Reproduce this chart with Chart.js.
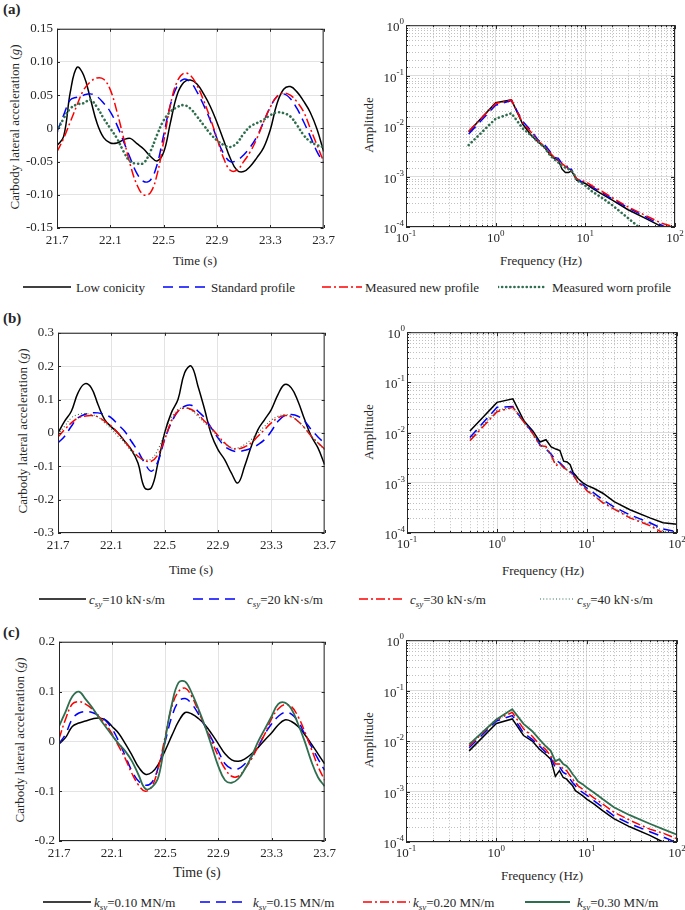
<!DOCTYPE html>
<html>
<head>
<meta charset="utf-8">
<script src="https://cdn.jsdelivr.net/npm/chart.js@4.4.1/dist/chart.umd.min.js"></script>
<style>
  body { margin: 0; background: #fff; }
  #page { position: relative; width: 685px; height: 910px; overflow: hidden;
          font-family: 'Liberation Serif', 'Times New Roman', serif; color: #262626; }
  .box { position: absolute; }
  .t { position: absolute; font-size: 13px; white-space: nowrap; line-height: 1; }
  .vt { transform: translate(-50%, -50%) rotate(-90deg); }
  .ct { transform: translate(-50%, -50%); }
  .lab { position: absolute; font-weight: bold; font-size: 15px; line-height: 1; }
  .leg { position: absolute; font-size: 13px; white-space: nowrap; line-height: 1; transform: translateY(-50%); }
  .leg sub { font-size: 9px; line-height: 0; vertical-align: -3px; font-style: italic; }
</style>
</head>
<body>
<div id="page">
  <div class="lab" style="left:3px;top:2px">(a)</div>
  <div class="lab" style="left:3px;top:311px">(b)</div>
  <div class="lab" style="left:3px;top:625px">(c)</div>

  <div class="t vt" style="left:14px;top:127px">Carbody lateral acceleration (<i>g</i>)</div>
  <div class="t vt" style="left:22px;top:431px">Carbody lateral acceleration (<i>g</i>)</div>
  <div class="t vt" style="left:19px;top:740px">Carbody lateral acceleration (<i>g</i>)</div>
  <div class="t vt" style="left:368px;top:125px">Amplitude</div>
  <div class="t vt" style="left:368px;top:432px">Amplitude</div>
  <div class="t vt" style="left:368px;top:740px">Amplitude</div>

  <div class="t ct" style="left:195px;top:260px">Time (s)</div>
  <div class="t ct" style="left:191px;top:569px">Time (s)</div>
  <div class="t ct" style="left:197px;top:873px;font-size:14px">Time (s)</div>
  <div class="t ct" style="left:541px;top:260px">Frequency (Hz)</div>
  <div class="t ct" style="left:543px;top:570px">Frequency (Hz)</div>
  <div class="t ct" style="left:542px;top:875px">Frequency (Hz)</div>
</div>

<script>
// time axis (s)
const time = [21.70, 21.75, 21.80, 21.85, 21.90, 21.95, 22.00, 22.05, 22.10, 22.15,
              22.20, 22.25, 22.30, 22.35, 22.40, 22.45, 22.50, 22.55, 22.60, 22.65,
              22.70, 22.75, 22.80, 22.85, 22.90, 22.95, 23.00, 23.05, 23.10, 23.15,
              23.20, 23.25, 23.30, 23.35, 23.40, 23.45, 23.50, 23.55, 23.60, 23.65, 23.70];

// (a) wheel profiles, carbody lateral acceleration (g)
const aLow  = [-0.026, -0.012, 0.055, 0.092, 0.080, 0.045, 0.008, -0.014, -0.022, -0.022,
               -0.017, -0.015, -0.023, -0.031, -0.042, -0.049, -0.036, 0.008, 0.050, 0.069,
               0.073, 0.067, 0.052, 0.033, 0.009, -0.018, -0.045, -0.063, -0.065, -0.057,
               -0.044, -0.029, -0.002, 0.037, 0.059, 0.063, 0.055, 0.041, 0.024, -0.001, -0.035];
const aStd  = [-0.005, 0.020, 0.043, 0.047, 0.050, 0.052, 0.048, 0.038, 0.025, 0.005,
               -0.020, -0.045, -0.068, -0.080, -0.078, -0.055, -0.010, 0.035, 0.063, 0.074,
               0.070, 0.055, 0.035, 0.012, -0.015, -0.038, -0.050, -0.048, -0.040, -0.028,
               -0.012, 0.010, 0.032, 0.048, 0.052, 0.045, 0.030, 0.010, -0.012, -0.035, -0.052];
const aNew  = [-0.035, -0.015, 0.010, 0.035, 0.058, 0.070, 0.076, 0.074, 0.058, 0.025,
               -0.015, -0.055, -0.085, -0.100, -0.097, -0.070, -0.020, 0.035, 0.070, 0.083,
               0.080, 0.065, 0.042, 0.015, -0.015, -0.045, -0.063, -0.063, -0.050, -0.035,
               -0.015, 0.010, 0.032, 0.048, 0.053, 0.050, 0.040, 0.025, 0.000, -0.025, -0.050];
const aWorn = [-0.005, 0.015, 0.030, 0.036, 0.038, 0.043, 0.032, 0.015, 0.000, -0.015,
               -0.035, -0.050, -0.053, -0.052, -0.035, -0.010, 0.012, 0.025, 0.032, 0.035,
               0.030, 0.018, 0.005, -0.008, -0.018, -0.025, -0.028, -0.022, -0.008, 0.003,
               0.008, 0.013, 0.020, 0.024, 0.023, 0.018, 0.005, -0.010, -0.020, -0.025, -0.028];

// (b) yaw damper damping
const bC10 = [0.000, 0.035, 0.065, 0.120, 0.147, 0.135, 0.085, 0.040, 0.018, 0.000,
              -0.025, -0.050, -0.090, -0.165, -0.165, -0.090, 0.000, 0.060, 0.100, 0.180,
              0.200, 0.140, 0.070, -0.005, -0.050, -0.080, -0.120, -0.150, -0.100, -0.040,
              0.010, 0.040, 0.070, 0.115, 0.145, 0.135, 0.095, 0.040, -0.010, -0.045, -0.095];
const bC20 = [-0.030, -0.010, 0.020, 0.045, 0.055, 0.060, 0.060, 0.055, 0.045, 0.025,
              0.005, -0.025, -0.055, -0.090, -0.115, -0.085, -0.020, 0.030, 0.065, 0.080,
              0.083, 0.065, 0.045, 0.015, -0.015, -0.040, -0.052, -0.056, -0.052, -0.046,
              -0.035, -0.020, 0.005, 0.035, 0.052, 0.055, 0.050, 0.035, 0.010, -0.012, -0.031];
const bC30 = [-0.012, 0.010, 0.030, 0.045, 0.050, 0.052, 0.048, 0.035, 0.020, 0.000,
              -0.025, -0.050, -0.070, -0.083, -0.085, -0.065, -0.020, 0.035, 0.065, 0.075,
              0.070, 0.055, 0.035, 0.015, -0.008, -0.030, -0.045, -0.048, -0.042, -0.030,
              -0.010, 0.010, 0.030, 0.045, 0.052, 0.048, 0.035, 0.015, -0.010, -0.030, -0.048];
const bC40 = [-0.005, 0.020, 0.045, 0.055, 0.058, 0.055, 0.048, 0.030, 0.012, -0.010,
              -0.030, -0.055, -0.072, -0.080, -0.078, -0.050, 0.000, 0.045, 0.070, 0.075,
              0.068, 0.050, 0.030, 0.010, -0.012, -0.032, -0.045, -0.045, -0.035, -0.020,
              0.000, 0.020, 0.038, 0.050, 0.055, 0.050, 0.035, 0.015, -0.010, -0.030, -0.050];

// (c) secondary lateral stiffness
const cK10 = [-0.005, 0.008, 0.030, 0.037, 0.041, 0.045, 0.047, 0.043, 0.030, 0.016,
              -0.005, -0.028, -0.052, -0.066, -0.062, -0.045, -0.018, 0.012, 0.040, 0.058,
              0.055, 0.046, 0.033, 0.015, -0.005, -0.025, -0.037, -0.040, -0.035, -0.025,
              -0.012, 0.003, 0.017, 0.033, 0.043, 0.040, 0.030, 0.014, -0.005, -0.025, -0.045];
const cK15 = [-0.005, 0.015, 0.045, 0.057, 0.060, 0.058, 0.052, 0.042, 0.025, 0.000,
              -0.030, -0.060, -0.080, -0.088, -0.082, -0.050, 0.000, 0.050, 0.080, 0.086,
              0.075, 0.055, 0.030, 0.005, -0.020, -0.045, -0.055, -0.055, -0.045, -0.030,
              -0.010, 0.015, 0.035, 0.050, 0.058, 0.055, 0.040, 0.015, -0.010, -0.035, -0.058];
const cK20 = [0.005, 0.045, 0.075, 0.080, 0.075, 0.065, 0.050, 0.035, 0.015, -0.010,
              -0.035, -0.065, -0.088, -0.100, -0.090, -0.050, 0.010, 0.070, 0.100, 0.107,
              0.090, 0.060, 0.030, 0.000, -0.030, -0.055, -0.070, -0.070, -0.055, -0.035,
              -0.010, 0.015, 0.045, 0.065, 0.074, 0.070, 0.050, 0.020, -0.015, -0.050, -0.078];
const cK30 = [0.030, 0.060, 0.090, 0.100, 0.085, 0.068, 0.048, 0.030, 0.012, -0.005,
              -0.020, -0.040, -0.068, -0.095, -0.092, -0.070, 0.005, 0.075, 0.118, 0.120,
              0.097, 0.065, 0.030, -0.010, -0.050, -0.078, -0.083, -0.075, -0.055, -0.030,
              0.000, 0.025, 0.050, 0.075, 0.078, 0.065, 0.035, 0.000, -0.040, -0.072, -0.090];

// spectra (Hz, amplitude)
const freq = [0.5, 1, 1.5, 2, 2.5, 3, 3.5, 4, 4.5, 5, 5.5, 6, 6.5, 7, 7.5, 8, 9, 10, 12, 15, 20, 30, 50, 70, 100];
const aLowF  = [0.0077, 0.029, 0.033, 0.011, 0.0065, 0.0048, 0.0038, 0.0028, 0.0023, 0.0021, 0.0014, 0.0012, 0.0012,
                0.0013, 0.00105, 0.00085, 0.00078, 0.00073, 0.00058, 0.00046, 0.00034, 0.00022, 0.00014, 0.000103, 0.00007];
const aStdF  = [0.007, 0.026, 0.032, 0.0125, 0.008, 0.0052, 0.0043, 0.0032, 0.0024, 0.0023, 0.0018, 0.0018, 0.0014,
                0.0014, 0.0011, 0.0009, 0.0008, 0.00077, 0.00062, 0.00049, 0.00036, 0.00024, 0.00015, 0.00011, 0.00008];
const aNewF  = [0.0079, 0.028, 0.033, 0.0116, 0.0075, 0.005, 0.004, 0.003, 0.0024, 0.0021, 0.0018, 0.0016, 0.0014,
                0.0013, 0.0011, 0.0009, 0.00083, 0.0008, 0.00065, 0.00052, 0.00038, 0.00025, 0.00016, 0.00012, 0.0001];
const aWornF = [0.0042, 0.014, 0.018, 0.009, 0.0065, 0.0048, 0.0038, 0.0027, 0.0022, 0.0019, 0.0016, 0.0015, 0.0014,
                0.0013, 0.0011, 0.00085, 0.00075, 0.00066, 0.0005, 0.00039, 0.00027, 0.00015, 0.00007, 0.00004, 0.00002];
const bC10F = [0.0108, 0.040, 0.047, 0.017, 0.0108, 0.0065, 0.0072, 0.0052, 0.0047, 0.0044, 0.0027, 0.0026, 0.0023,
               0.0016, 0.0014, 0.0012, 0.001, 0.00089, 0.00077, 0.00062, 0.00042, 0.00029, 0.0002, 0.00016, 0.00015];
const bC20F = [0.008, 0.032, 0.033, 0.016, 0.010, 0.0057, 0.0047, 0.0037, 0.0028, 0.0025, 0.0021, 0.0018, 0.0017,
               0.0015, 0.0012, 0.00097, 0.00092, 0.00078, 0.00062, 0.00046, 0.00033, 0.00023, 0.00016, 0.00012, 0.000106];
const bC30F = [0.0069, 0.026, 0.032, 0.016, 0.0095, 0.0055, 0.0053, 0.0035, 0.0022, 0.0024, 0.002, 0.0018, 0.0016,
               0.0014, 0.0012, 0.00097, 0.00088, 0.00069, 0.00055, 0.0004, 0.0003, 0.0002, 0.00014, 0.0001, 0.00009];
const bC40F = [0.0074, 0.028, 0.032, 0.016, 0.0098, 0.0056, 0.005, 0.0036, 0.0024, 0.0024, 0.002, 0.0018, 0.0016,
               0.0014, 0.0012, 0.00097, 0.0009, 0.00072, 0.00057, 0.00042, 0.00031, 0.00021, 0.00015, 0.00011, 0.000095];
const cK10F = [0.0064, 0.0223, 0.0275, 0.0129, 0.010, 0.0069, 0.0055, 0.0044, 0.002, 0.0026, 0.0019, 0.00176, 0.0015,
               0.0013, 0.00104, 0.00096, 0.00083, 0.00071, 0.00057, 0.00042, 0.00029, 0.0002, 0.000135, 0.0001, 0.00008];
const cK15F = [0.0074, 0.025, 0.032, 0.0146, 0.0108, 0.008, 0.0061, 0.0047, 0.003, 0.0031, 0.0024, 0.0022, 0.0018,
               0.0015, 0.0013, 0.00112, 0.00096, 0.00085, 0.00066, 0.00049, 0.00033, 0.00023, 0.00016, 0.000126, 0.000097];
const cK20F = [0.008, 0.0267, 0.037, 0.0175, 0.0125, 0.0086, 0.0069, 0.0051, 0.0035, 0.0035, 0.0028, 0.0026, 0.0021,
               0.00176, 0.0015, 0.0013, 0.00112, 0.00096, 0.00075, 0.00057, 0.00039, 0.00027, 0.00018, 0.00015, 0.000116];
const cK30F = [0.0086, 0.0267, 0.043, 0.022, 0.0157, 0.0108, 0.008, 0.0064, 0.004, 0.0044, 0.0035, 0.0032, 0.0027,
               0.0022, 0.0019, 0.0016, 0.0014, 0.0012, 0.00096, 0.00071, 0.00049, 0.00034, 0.00023, 0.00018, 0.00014];

// ticks
const timeTicks = [21.7, 22.1, 22.5, 22.9, 23.3, 23.7];
const timeLabels = ['21.7', '22.1', '22.5', '22.9', '23.3', '23.7'];
const aTicks = [-0.15, -0.10, -0.05, 0, 0.05, 0.10, 0.15];
const aLabels = ['-0.15', '-0.10', '-0.05', '0', '0.05', '0.10', '0.15'];
const bTicks = [-0.3, -0.2, -0.1, 0, 0.1, 0.2, 0.3];
const bLabels = ['-0.3', '-0.2', '-0.1', '0', '0.1', '0.2', '0.3'];
const cTicks = [-0.2, -0.1, 0, 0.1, 0.2];
const cLabels = ['-0.2', '-0.1', '0', '0.1', '0.2'];
const freqTicks = [0.1, 1, 10, 100];
const freqExp = ['-1', '0', '1', '2'];
const ampTicks = [0.0001, 0.001, 0.01, 0.1, 1];
const ampExp = ['-4', '-3', '-2', '-1', '0'];

const BLACK = '#000000', BLUE = '#0000ff', RED = '#ff0000', GREEN = '#2f6f4f';
const SERIF = "'Liberation Serif', 'Times New Roman', serif";
Chart.defaults.font.family = SERIF;
Chart.defaults.color = '#262626';

const solid = {dash: [], width: 1.5};
const dashed = {dash: [10, 6], width: 1.5};
const dashDot = {dash: [9, 3, 2, 3], width: 1.5};
const bigDots = {dash: [0.1, 4], width: 2.6, cap: 'round'};
const thinDots = {dash: [1, 2.2], width: 1.1};

function isMajor(v) {
  const l = Math.log10(v);
  return Math.abs(l - Math.round(l)) < 1e-6;
}

const frame = {
  id: 'frame',
  beforeDatasetsDraw(chart, args, o) {
    if (!o.log) return;
    const {ctx, chartArea: a} = chart;
    const x = chart.scales.x, y = chart.scales.y;
    ctx.save();
    ctx.strokeStyle = '#b0b0b0';
    ctx.lineWidth = 0.8;
    ctx.setLineDash([1, 2]);
    ctx.beginPath();
    x.ticks.forEach(t => {
      if (isMajor(t.value)) return;
      const px = Math.round(x.getPixelForValue(t.value)) + 0.5;
      ctx.moveTo(px, a.top); ctx.lineTo(px, a.bottom);
    });
    y.ticks.forEach(t => {
      if (isMajor(t.value)) return;
      const py = Math.round(y.getPixelForValue(t.value)) + 0.5;
      ctx.moveTo(a.left, py); ctx.lineTo(a.right, py);
    });
    ctx.stroke();
    ctx.restore();
  },
  afterDraw(chart, args, o) {
    const {ctx, chartArea: a} = chart;
    const x = chart.scales.x, y = chart.scales.y;
    ctx.save();
    ctx.strokeStyle = '#262626';
    ctx.lineWidth = 1;
    ctx.strokeRect(a.left + 0.5, a.top + 0.5, a.right - a.left - 1, a.bottom - a.top - 1);
    // inward tick marks, as in the source figure
    ctx.beginPath();
    x.ticks.forEach(t => {
      const len = o.log ? (isMajor(t.value) ? 4 : 2) : 3;
      const px = Math.round(x.getPixelForValue(t.value)) + 0.5;
      ctx.moveTo(px, a.bottom); ctx.lineTo(px, a.bottom - len);
      ctx.moveTo(px, a.top); ctx.lineTo(px, a.top + len);
    });
    y.ticks.forEach(t => {
      const len = o.log ? (isMajor(t.value) ? 4 : 2) : 3;
      const py = Math.round(y.getPixelForValue(t.value)) + 0.5;
      ctx.moveTo(a.left, py); ctx.lineTo(a.left + len, py);
      ctx.moveTo(a.right, py); ctx.lineTo(a.right - len, py);
    });
    ctx.stroke();

    if (o.log) {
      ctx.fillStyle = '#262626';
      ctx.textAlign = 'left';
      ctx.textBaseline = 'alphabetic';
      freqTicks.forEach((v, i) => {
        const px = x.getPixelForValue(v);
        ctx.font = '13px ' + SERIF;
        const w1 = ctx.measureText('10').width;
        ctx.font = '9px ' + SERIF;
        const w2 = ctx.measureText(freqExp[i]).width;
        const x0 = px - (w1 + w2) / 2;
        ctx.font = '13px ' + SERIF;
        ctx.fillText('10', x0, a.bottom + 15);
        ctx.font = '9px ' + SERIF;
        ctx.fillText(freqExp[i], x0 + w1, a.bottom + 9);
      });
      ampTicks.forEach((v, i) => {
        const py = y.getPixelForValue(v);
        ctx.font = '9px ' + SERIF;
        const w2 = ctx.measureText(ampExp[i]).width;
        ctx.font = '13px ' + SERIF;
        const w1 = ctx.measureText('10').width;
        const x0 = a.left - 2 - w1 - w2;
        ctx.fillText('10', x0, py + 6);
        ctx.font = '9px ' + SERIF;
        ctx.fillText(ampExp[i], x0 + w1, py - 1);
      });
    }
    ctx.restore();
  }
};

const PAD_L = 50, PAD_T = 8, PAD_R = 12, PAD_B = 30;

function makeCanvas(area) {
  const div = document.createElement('div');
  div.className = 'box';
  div.style.left = (area.l - PAD_L) + 'px';
  div.style.top = (area.t - PAD_T) + 'px';
  div.style.width = (area.r - area.l + PAD_L + PAD_R) + 'px';
  div.style.height = (area.b - area.t + PAD_T + PAD_B) + 'px';
  const c = document.createElement('canvas');
  div.appendChild(c);
  document.getElementById('page').appendChild(div);
  return c;
}

function toDatasets(series, xs, tension) {
  return series.map((s, i) => ({
    label: s.label,
    data: xs.map((v, k) => ({x: v, y: s.values[k]})),
    borderColor: s.color,
    borderWidth: s.style.width,
    borderDash: s.style.dash,
    borderCapStyle: s.style.cap || 'butt',
    pointRadius: 0,
    fill: false,
    tension: tension,
    order: series.length - i
  }));
}

function timeChart(area, series, yTicks, yLabels) {
  new Chart(makeCanvas(area), {
    type: 'line',
    data: {datasets: toDatasets(series, time, 0.4)},
    options: {
      responsive: true,
      maintainAspectRatio: false,
      animation: false,
      layout: {padding: {left: 0, top: PAD_T, right: PAD_R, bottom: 0}},
      plugins: {legend: {display: false}, tooltip: {enabled: false}, frame: {log: false}},
      scales: {
        x: {
          type: 'linear', min: 21.7, max: 23.7,
          afterBuildTicks: s => { s.ticks = timeTicks.map(v => ({value: v})); },
          afterFit: s => { s.height = PAD_B; },
          ticks: {callback: (v, i) => timeLabels[i], autoSkip: false, maxRotation: 0, padding: 5, font: {size: 13}},
          grid: {color: '#e3e3e3', drawTicks: false},
          border: {display: false}
        },
        y: {
          type: 'linear', min: yTicks[0], max: yTicks[yTicks.length - 1],
          afterBuildTicks: s => { s.ticks = yTicks.map(v => ({value: v})); },
          afterFit: s => { s.width = PAD_L; },
          ticks: {callback: (v, i) => yLabels[i], autoSkip: false, padding: 4, font: {size: 13}},
          grid: {color: '#e3e3e3', drawTicks: false},
          border: {display: false}
        }
      }
    },
    plugins: [frame]
  });
}

function specChart(area, series) {
  const majorGrid = c => (c.tick && isMajor(c.tick.value)) ? '#dcdcdc' : 'rgba(0,0,0,0)';
  new Chart(makeCanvas(area), {
    type: 'line',
    data: {datasets: toDatasets(series, freq, 0)},
    options: {
      responsive: true,
      maintainAspectRatio: false,
      animation: false,
      layout: {padding: {left: 0, top: PAD_T, right: PAD_R, bottom: 0}},
      plugins: {legend: {display: false}, tooltip: {enabled: false}, frame: {log: true}},
      scales: {
        x: {
          type: 'logarithmic', min: 0.1, max: 100,
          afterFit: s => { s.height = PAD_B; },
          ticks: {callback: () => '', autoSkip: false, maxRotation: 0},
          grid: {color: majorGrid, drawTicks: false},
          border: {display: false}
        },
        y: {
          type: 'logarithmic', min: 0.0001, max: 1,
          afterFit: s => { s.width = PAD_L; },
          ticks: {callback: () => '', autoSkip: false},
          grid: {color: majorGrid, drawTicks: false},
          border: {display: false}
        }
      }
    },
    plugins: [frame]
  });
}

// (a)
const aNames = ['Low conicity', 'Standard profile', 'Measured new profile', 'Measured worn profile'];
timeChart({l: 57, t: 25, r: 328, b: 228}, [
  {label: aNames[0], values: aLow, color: BLACK, style: solid},
  {label: aNames[1], values: aStd, color: BLUE, style: dashed},
  {label: aNames[2], values: aNew, color: RED, style: dashDot},
  {label: aNames[3], values: aWorn, color: GREEN, style: bigDots}
], aTicks, aLabels);
specChart({l: 406, t: 23, r: 675, b: 227}, [
  {label: aNames[0], values: aLowF, color: BLACK, style: solid},
  {label: aNames[1], values: aStdF, color: BLUE, style: dashed},
  {label: aNames[2], values: aNewF, color: RED, style: dashDot},
  {label: aNames[3], values: aWornF, color: GREEN, style: bigDots}
]);

// (b)
const bNames = ['c_sy=10 kN·s/m', 'c_sy=20 kN·s/m', 'c_sy=30 kN·s/m', 'c_sy=40 kN·s/m'];
timeChart({l: 58, t: 329, r: 329, b: 533}, [
  {label: bNames[0], values: bC10, color: BLACK, style: solid},
  {label: bNames[1], values: bC20, color: BLUE, style: dashed},
  {label: bNames[2], values: bC30, color: RED, style: dashDot},
  {label: bNames[3], values: bC40, color: GREEN, style: thinDots}
], bTicks, bLabels);
specChart({l: 407, t: 330, r: 677, b: 533}, [
  {label: bNames[0], values: bC10F, color: BLACK, style: solid},
  {label: bNames[1], values: bC20F, color: BLUE, style: dashed},
  {label: bNames[2], values: bC30F, color: RED, style: dashDot},
  {label: bNames[3], values: bC40F, color: GREEN, style: thinDots}
]);

// (c)
const cNames = ['k_sy=0.10 MN/m', 'k_sy=0.15 MN/m', 'k_sy=0.20 MN/m', 'k_sy=0.30 MN/m'];
const greenSolid = {dash: [], width: 1.8};
timeChart({l: 59, t: 638, r: 329, b: 841}, [
  {label: cNames[0], values: cK10, color: BLACK, style: solid},
  {label: cNames[1], values: cK15, color: BLUE, style: dashed},
  {label: cNames[2], values: cK20, color: RED, style: dashDot},
  {label: cNames[3], values: cK30, color: GREEN, style: greenSolid}
], cTicks, cLabels);
specChart({l: 406, t: 638, r: 677, b: 842}, [
  {label: cNames[0], values: cK10F, color: BLACK, style: solid},
  {label: cNames[1], values: cK15F, color: BLUE, style: dashed},
  {label: cNames[2], values: cK20F, color: RED, style: dashDot},
  {label: cNames[3], values: cK30F, color: GREEN, style: greenSolid}
]);

// legends (HTML, so the subscripts stay real text)
function legendHtml(name) {
  const m = name.match(/^([a-z])_([a-z]+)(.*)$/);
  if (!m) return name;
  return '<i>' + m[1] + '</i><sub>' + m[2] + '</sub>' + m[3];
}
function legend(yc, names, items) {
  const page = document.getElementById('page');
  items.forEach((it, i) => {
    const st = it.style;
    const w = it.x1 - it.x0;
    const svg = document.createElement('div');
    svg.className = 'leg';
    svg.style.left = it.x0 + 'px';
    svg.style.top = yc + 'px';
    svg.innerHTML = '<svg width="' + w + '" height="8" style="display:block"><line x1="0" y1="4" x2="' + w +
      '" y2="4" stroke="' + it.color + '" stroke-width="' + st.width + '" stroke-dasharray="' +
      (st.dash.length ? st.dash.join(' ') : 'none') + '" stroke-linecap="' + (st.cap || 'butt') + '"/></svg>';
    page.appendChild(svg);
    const tx = document.createElement('div');
    tx.className = 'leg';
    tx.style.left = it.tx + 'px';
    tx.style.top = yc + 'px';
    tx.innerHTML = legendHtml(names[i]);
    page.appendChild(tx);
  });
}
legend(287, aNames, [
  {x0: 23, x1: 71, tx: 76, color: BLACK, style: solid},
  {x0: 163, x1: 207, tx: 211, color: BLUE, style: dashed},
  {x0: 322, x1: 362, tx: 365, color: RED, style: dashDot},
  {x0: 498, x1: 546, tx: 552, color: GREEN, style: bigDots}
]);
legend(599, bNames, [
  {x0: 39, x1: 86, tx: 89, color: BLACK, style: solid},
  {x0: 193, x1: 240, tx: 247, color: BLUE, style: dashed},
  {x0: 359, x1: 403, tx: 410, color: RED, style: dashDot},
  {x0: 540, x1: 573, tx: 577, color: GREEN, style: thinDots}
]);
legend(902, cNames, [
  {x0: 43, x1: 91, tx: 94, color: BLACK, style: solid},
  {x0: 200, x1: 248, tx: 253, color: BLUE, style: dashed},
  {x0: 363, x1: 410, tx: 413, color: RED, style: dashDot},
  {x0: 525, x1: 570, tx: 577, color: GREEN, style: greenSolid}
]);
</script>
</body>
</html>
